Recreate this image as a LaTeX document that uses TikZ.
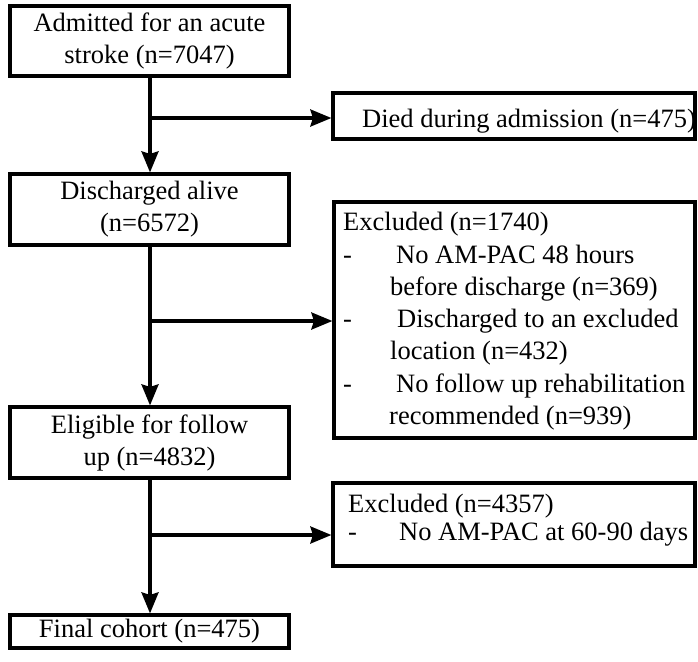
\documentclass[tikz,border=0pt]{standalone}
\usepackage{fontspec}
\setmainfont{Liberation Serif}
\usetikzlibrary{arrows.meta}
\begin{document}
\begin{tikzpicture}[x=1pt,y=-1pt,
  box/.style={draw=black,line width=3.2pt,rectangle,inner sep=0pt,align=center},
  arr/.style={line width=3.2pt,-{Stealth[length=21pt,width=17pt,inset=2.5pt]}},
  ln/.style={anchor=base west,inner sep=0pt},
  every node/.style={font=\fontsize{26.5}{32}\selectfont}]
\useasboundingbox (0,0) rectangle (698,661);
% left column
\node[box,minimum width=279pt,minimum height=70pt] (b1) at (149.5,41) {Admitted for an acute\\stroke (n=7047)};
\node[box,minimum width=279pt,minimum height=71pt] (b2) at (149.5,209.5) {Discharged alive\\(n=6572)};
\node[box,minimum width=279pt,minimum height=71pt] (b3) at (149.5,442.5) {Eligible for follow\\up (n=4832)};
\node[box,minimum width=279pt,minimum height=33pt] (b4) at (149.5,631.5) {Final cohort (n=475)};
% right column
\node[box,minimum width=362pt,minimum height=46pt] (d1) at (514,116) {};
\node[ln] (d1t) at (362,127) {Died during admission (n=475)};
\node[box,minimum width=361pt,minimum height=236pt] (e1) at (514.5,320) {};
\node[ln] (e1a) at (343,230) {Excluded (n=1740)};
\node[ln] (e1b) at (343,263) {-};
\node[ln] (e1c) at (396,263) {No AM-PAC 48 hours};
\node[ln] (e1d) at (390,295) {before discharge (n=369)};
\node[ln] (e1e) at (343,327) {-};
\node[ln] (e1f) at (397,327) {Discharged to an excluded};
\node[ln] (e1g) at (390,359) {location (n=432)};
\node[ln] (e1h) at (343,392) {-};
\node[ln] (e1i) at (396,392) {No follow up rehabilitation};
\node[ln] (e1j) at (389,424) {recommended (n=939)};
\node[box,minimum width=362pt,minimum height=83pt] (e2) at (514,524.5) {};
\node[ln] (e2a) at (348,512) {Excluded (n=4357)};
\node[ln] (e2b) at (348,540) {-};
\node[ln] (e2c) at (399,540) {No AM-PAC at 60-90 days};
% connectors
\coordinate (j1) at (150,118);
\coordinate (j2) at (150,321);
\coordinate (j3) at (150,535);
\draw[arr] (b1.south -| j1) -- (b2.north -| j1);
\draw[arr] (j1) -- (j1 -| d1.west);
\draw[arr] (b2.south -| j2) -- (b3.north -| j2);
\draw[arr] (j2) -- (j2 -| e1.west);
\draw[arr] (b3.south -| j3) -- (b4.north -| j3);
\draw[arr] (j3) -- (j3 -| e2.west);
\end{tikzpicture}
\end{document}
